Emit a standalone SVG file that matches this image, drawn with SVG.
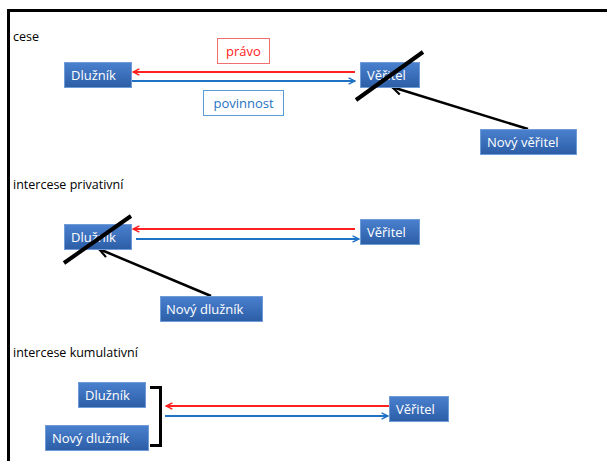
<svg xmlns="http://www.w3.org/2000/svg" width="607" height="461" viewBox="0 0 607 461">
<defs>
<linearGradient id="g" x1="0" y1="0" x2="0" y2="1">
<stop offset="0" stop-color="#4a80cf"/>
<stop offset="1" stop-color="#2c5ea6"/>
</linearGradient>
<marker id="ar" viewBox="0 0 10 10" refX="9" refY="5" markerWidth="8" markerHeight="8" markerUnits="userSpaceOnUse" orient="auto"><path d="M1,1 L9,5 L1,9" fill="none" stroke="#ff2020" stroke-width="1.8"/></marker>
<marker id="ab" viewBox="0 0 10 10" refX="9" refY="5" markerWidth="8" markerHeight="8" markerUnits="userSpaceOnUse" orient="auto"><path d="M1,1 L9,5 L1,9" fill="none" stroke="#1f72c4" stroke-width="1.8"/></marker>
<marker id="ak" viewBox="0 0 10 10" refX="9" refY="5" markerWidth="12" markerHeight="12" markerUnits="userSpaceOnUse" orient="auto"><path d="M1,1 L9,5 L1,9" fill="none" stroke="#000" stroke-width="1.8"/></marker>
</defs>
<style>
.box{fill:url(#g);stroke:#6f9bd6;stroke-width:1}
.bt{fill:#fff;font-family:"Open Sans","Liberation Sans",sans-serif;font-size:13px}
.lab{fill:#000;font-family:"Open Sans","Liberation Sans",sans-serif;font-size:12.5px}
.red{stroke:#ff2020;stroke-width:2;fill:none}
.blue{stroke:#1f72c4;stroke-width:2;fill:none}
.strike{stroke:#000;stroke-width:4;fill:none}
.blk{stroke:#000;stroke-width:2.5;fill:none}
</style>
<rect width="607" height="461" fill="#fff"/>
<path d="M8.5,461 V10.5 H607" fill="none" stroke="#000" stroke-width="3"/>
<text class="lab" x="13" y="41">cese</text>
<text class="lab" x="13" y="189">intercese privativní</text>
<text class="lab" x="13" y="357">intercese kumulativní</text>

<g id="connectors">
<line class="red" x1="355" y1="72" x2="133" y2="72" marker-end="url(#ar)"/>
<line class="blue" x1="132" y1="81" x2="355" y2="81" marker-end="url(#ab)"/>
<line class="blk" x1="528" y1="129" x2="392" y2="87" marker-end="url(#ak)"/>
<line class="red" x1="355" y1="229" x2="133" y2="229" marker-end="url(#ar)"/>
<line class="blue" x1="136" y1="239" x2="359" y2="239" marker-end="url(#ab)"/>
<line class="blk" x1="211" y1="296" x2="99" y2="249" marker-end="url(#ak)"/>
<line class="red" x1="389" y1="406" x2="166" y2="406" marker-end="url(#ar)"/>
<line class="blue" x1="165" y1="416" x2="388" y2="416" marker-end="url(#ab)"/>
</g>

<g id="pravo"><rect x="217.5" y="38.5" width="52" height="25" fill="#fff" stroke="#f07070"/><text x="243.5" y="55.5" text-anchor="middle" fill="#ff2020" font-family="Open Sans, Liberation Sans, sans-serif" font-size="13">právo</text></g>
<g id="povinnost"><rect x="203.5" y="90.5" width="80" height="25" fill="#fff" stroke="#5b9bd5"/><text x="243.5" y="107.5" text-anchor="middle" fill="#1f72c4" font-family="Open Sans, Liberation Sans, sans-serif" font-size="13">povinnost</text></g>

<g id="dluznik1"><rect class="box" x="64.5" y="62.5" width="67" height="25"/><text class="bt" x="71" y="79.5">Dlužník</text></g>
<g id="veritel1"><rect class="box" x="360.5" y="62.5" width="59" height="25"/><text class="bt" x="367" y="79.5">Věřitel</text></g>
<g id="novyveritel"><rect class="box" x="480.5" y="129.5" width="96" height="25"/><text class="bt" x="487" y="146.5">Nový věřitel</text></g>
<line class="strike" x1="356" y1="100" x2="423" y2="52"/>

<g id="dluznik2"><rect class="box" x="64.5" y="224.5" width="67" height="25"/><text class="bt" x="71" y="241.5">Dlužník</text></g>
<g id="veritel2"><rect class="box" x="360.5" y="219.5" width="59" height="25"/><text class="bt" x="367" y="236.5">Věřitel</text></g>
<g id="novydluznik1"><rect class="box" x="160.5" y="296.5" width="102" height="25"/><text class="bt" x="166" y="313.5">Nový dlužník</text></g>
<line class="strike" x1="64" y1="263" x2="131" y2="216"/>

<g id="dluznik3"><rect class="box" x="78.5" y="382.5" width="67" height="25"/><text class="bt" x="85" y="399.5">Dlužník</text></g>
<g id="novydluznik2"><rect class="box" x="45.5" y="425.5" width="103" height="25"/><text class="bt" x="52" y="442.5">Nový dlužník</text></g>
<g id="veritel3"><rect class="box" x="389.5" y="396.5" width="59" height="25"/><text class="bt" x="396" y="413.5">Věřitel</text></g>
<path d="M150,387.5 H160.5 V445.5 H150" fill="none" stroke="#000" stroke-width="3"/>
</svg>
